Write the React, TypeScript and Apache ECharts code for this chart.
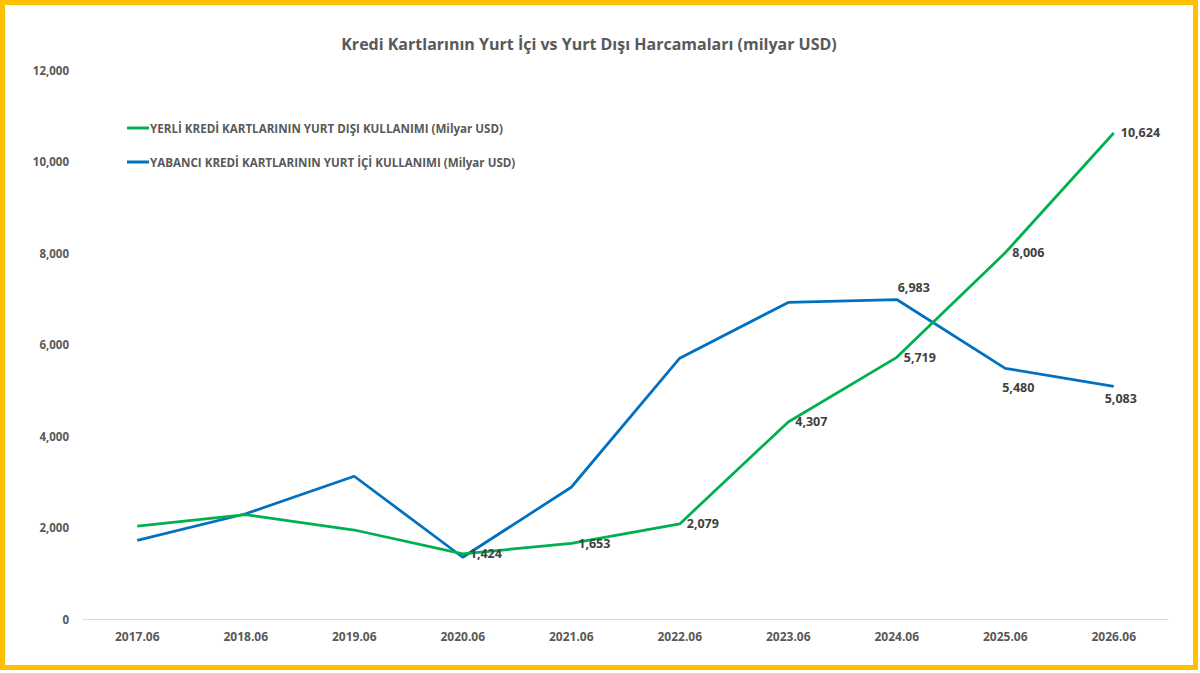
import React, { useEffect, useRef } from "react";
import * as echarts from "echarts";

const categories = ["2017.06", "2018.06", "2019.06", "2020.06", "2021.06", "2022.06", "2023.06", "2024.06", "2025.06", "2026.06"];
const yerliDisi = [2030, 2280, 1945, 1424, 1653, 2079, 4307, 5719, 8006, 10624];
const yabanciIci = [1720, 2300, 3120, 1350, 2880, 5700, 6920, 6983, 5480, 5083];
const seriesNames = [
  "YERLİ KREDİ KARTLARININ YURT DIŞI KULLANIMI (Milyar USD)",
  "YABANCI KREDİ KARTLARININ YURT İÇİ KULLANIMI (Milyar USD)",
];
const yTicks = { min: 0, max: 12000, interval: 2000 };

const FONT = "'Open Sans', 'Noto Sans', sans-serif";

export default function App() {
  const ref = useRef<HTMLDivElement>(null);
  useEffect(() => {
    if (!ref.current) return;
    const chart = echarts.init(ref.current, null, { renderer: "svg" });
    const fmt = (v: number) => v.toLocaleString("en-US");
    const labelBase = { show: true, color: "#404040", fontFamily: FONT, fontWeight: "bold" as const, fontSize: 12.5, formatter: (p: any) => fmt(p.value) };

    const greenData = yerliDisi.map((v, i) =>
      i >= 3 ? { value: v, label: { ...labelBase, position: "right", distance: 7 } } : { value: v }
    );
    const blueLabelCfg: Record<number, any> = {
      7: { position: "top", distance: 6, offset: [17, 0] },
      8: { position: "bottom", distance: 5, offset: [13, 8] },
      9: { position: "bottom", distance: 5, offset: [7, 1] },
    };
    const blueData = yabanciIci.map((v, i) =>
      blueLabelCfg[i] ? { value: v, label: { ...labelBase, ...blueLabelCfg[i] } } : { value: v }
    );

    chart.setOption({
      animation: false,
      backgroundColor: "#ffffff",
      title: {
        text: "Kredi Kartlarının Yurt İçi vs Yurt Dışı Harcamaları (milyar USD)",
        left: 584,
        top: 31,
        textAlign: "center",
        textStyle: { color: "#595959", fontFamily: FONT, fontWeight: "bold", fontSize: 16 },
      },
      legend: {
        orient: "vertical",
        left: 122,
        top: 117,
        itemWidth: 22,
        itemHeight: 3,
        itemGap: 22,
        icon: "rect",
        textStyle: { color: "#595959", fontFamily: FONT, fontWeight: "bold", fontSize: 11.6, padding: [0, 0, 0, -4] },
        data: seriesNames,
      },
      grid: { left: 83, right: 32, top: 70, bottom: 54, containLabel: false },
      xAxis: {
        type: "category",
        data: categories,
        boundaryGap: true,
        axisLine: { lineStyle: { color: "#D9D9D9", width: 1 } },
        axisTick: { show: false },
        axisLabel: { color: "#595959", fontFamily: FONT, fontWeight: "bold", fontSize: 12, margin: 11 },
      },
      yAxis: {
        type: "value",
        min: yTicks.min,
        max: yTicks.max,
        interval: yTicks.interval,
        splitLine: { show: false },
        axisLine: { show: false },
        axisTick: { show: false },
        axisLabel: { color: "#595959", fontFamily: FONT, fontWeight: "bold", fontSize: 11.5, margin: 14, formatter: (v: number) => fmt(v) },
      },
      graphic: [
        {
          type: "rect",
          shape: { x: 2.5, y: 2.5, width: 1193, height: 665 },
          style: { fill: "none", stroke: "#FFC000", lineWidth: 5 },
          z: 100,
        },
      ],
      series: [
        {
          name: seriesNames[0],
          type: "line",
          data: greenData,
          symbol: "circle",
          symbolSize: 0,
          showSymbol: true,
          color: "#00B050",
          lineStyle: { color: "#00B050", width: 2.75 },
          label: { show: false },
          z: 3,
        },
        {
          name: seriesNames[1],
          type: "line",
          data: blueData,
          symbol: "circle",
          symbolSize: 0,
          showSymbol: true,
          color: "#0070C0",
          lineStyle: { color: "#0070C0", width: 2.75 },
          label: { show: false },
          z: 2,
        },
      ],
    });
    return () => chart.dispose();
  }, []);
  return <div ref={ref} style={{ position: "absolute", left: 0, top: 0, width: 1200, height: 673 }} />;
}
